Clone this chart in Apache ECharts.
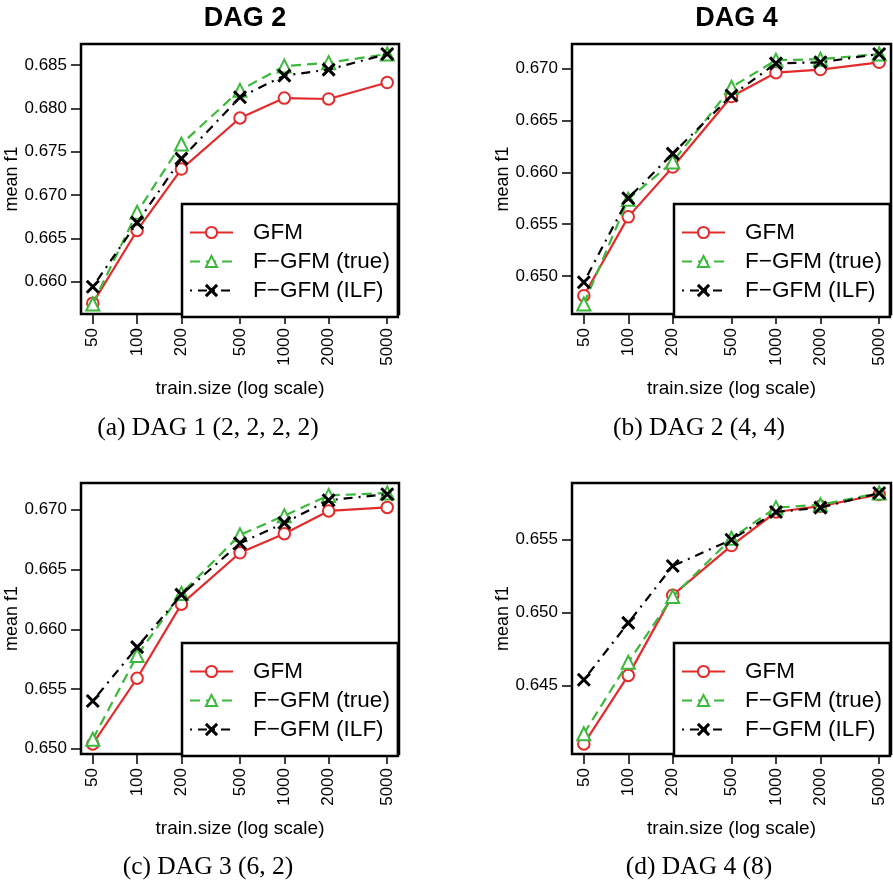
<!DOCTYPE html>
<html><head><meta charset="utf-8">
<script src="https://cdn.jsdelivr.net/npm/echarts@6/dist/echarts.min.js"></script>
<style>html,body{margin:0;padding:0;background:#fff}#c{width:893px;height:882px}</style>
</head><body><div id="c"></div>
<script>
// ---- data ----
const trainSizes = [50, 100, 200, 500, 1000, 2000, 5000];
const seriesNames = ['GFM', 'F\u2212GFM (true)', 'F\u2212GFM (ILF)'];
const panelTitles = ['DAG 2', 'DAG 4', '', ''];
const panelCaptions = ['(a) DAG 1 (2, 2, 2, 2)', '(b) DAG 2 (4, 4)', '(c) DAG 3 (6, 2)', '(d) DAG 4 (8)'];

const dagA_gfm  = [0.6575, 0.6659, 0.6730, 0.6789, 0.6812, 0.6811, 0.6830];
const dagA_true = [0.6574, 0.6680, 0.6759, 0.6821, 0.6849, 0.6853, 0.6863];
const dagA_ilf  = [0.6594, 0.6668, 0.6742, 0.6813, 0.6838, 0.6845, 0.6863];

const dagB_gfm  = [0.6481, 0.6557, 0.6605, 0.6673, 0.6696, 0.6699, 0.6706];
const dagB_true = [0.6473, 0.6574, 0.6610, 0.6682, 0.6708, 0.6709, 0.6714];
const dagB_ilf  = [0.6494, 0.6575, 0.6618, 0.6674, 0.6705, 0.6706, 0.6714];

const dagC_gfm  = [0.6504, 0.6559, 0.6621, 0.6664, 0.6680, 0.6699, 0.6702];
const dagC_true = [0.6508, 0.6578, 0.6630, 0.6679, 0.6695, 0.6712, 0.6714];
const dagC_ilf  = [0.6540, 0.6585, 0.6629, 0.6672, 0.6689, 0.6708, 0.6713];

const dagD_gfm  = [0.6410, 0.6457, 0.6512, 0.6546, 0.6569, 0.6573, 0.6581];
const dagD_true = [0.6417, 0.6466, 0.6511, 0.6551, 0.6572, 0.6574, 0.6582];
const dagD_ilf  = [0.6454, 0.6493, 0.6532, 0.6550, 0.6569, 0.6572, 0.6582];

const yTicksA = [0.660, 0.665, 0.670, 0.675, 0.680, 0.685];
const yTicksB = [0.650, 0.655, 0.660, 0.665, 0.670];
const yTicksC = [0.650, 0.655, 0.660, 0.665, 0.670];
const yTicksD = [0.645, 0.650, 0.655];

const panelData = [
  [dagA_gfm, dagA_true, dagA_ilf],
  [dagB_gfm, dagB_true, dagB_ilf],
  [dagC_gfm, dagC_true, dagC_ilf],
  [dagD_gfm, dagD_true, dagD_ilf]
];
const panelYTicks = [yTicksA, yTicksB, yTicksC, yTicksD];

// ---- layout / style ----
const FONT = 'Liberation Sans';
const SERIF = 'Liberation Serif';
const RED = '#e42b2b', GREEN = '#3db83d', BLACK = '#000';
const grids = [
  {left: 81,  top: 44,  width: 318, height: 270},
  {left: 572, top: 44,  width: 319, height: 270},
  {left: 81,  top: 483, width: 318, height: 271},
  {left: 572, top: 483, width: 319, height: 271}
];
const legendPos = [
  {left: 182, top: 204}, {left: 674, top: 204},
  {left: 182, top: 643}, {left: 674, top: 643}
];
const captionPos = [
  {x: 203, y: 410}, {x: 694, y: 410}, {x: 203, y: 849}, {x: 694, y: 849}
];

// R-style 4% axis extension
function rangeExt(lo, hi) { const r = hi - lo; return [lo - 0.04 * r, hi + 0.04 * r]; }
const xLogExt = rangeExt(Math.log10(trainSizes[0]), Math.log10(trainSizes[trainSizes.length - 1]));

const styles = [
  {symbol: 'emptyCircle', symbolSize: 11.5, color: RED, dash: 'solid'},
  {symbol: 'emptyTriangle', symbolSize: 13, color: GREEN, dash: [10, 6]},
  {symbol: 'path://M0,0L10,10M10,0L0,10', symbolSize: 12, color: BLACK, dash: [2, 6, 9, 6]}
];

const option = {
  animation: false,
  backgroundColor: '#fff',
  textStyle: {fontFamily: FONT},
  title: [],
  grid: [], xAxis: [], yAxis: [], legend: [], series: []
};

for (let p = 0; p < 4; p++) {
  const g = grids[p];
  option.grid.push(Object.assign({show: true, borderColor: '#000', borderWidth: 2.5, backgroundColor: 'transparent'}, g));
  const all = [].concat(...panelData[p]);
  const yExt = rangeExt(Math.min(...all), Math.max(...all));
  option.xAxis.push({
    type: 'log', logBase: 10, gridIndex: p,
    min: Math.pow(10, xLogExt[0]), max: Math.pow(10, xLogExt[1]),
    name: 'train.size (log scale)', nameLocation: 'middle', nameGap: 65,
    nameTextStyle: {fontSize: 19, color: '#000', fontFamily: FONT},
    axisLine: {show: false},
    axisTick: {show: true, length: 10, customValues: trainSizes, lineStyle: {color: '#000', width: 1.5}},
    axisLabel: {show: true, rotate: 90, margin: 14, fontSize: 17, color: '#000', fontFamily: FONT,
                customValues: trainSizes, formatter: v => String(Math.round(v))},
    splitLine: {show: false}, minorTick: {show: false}, minorSplitLine: {show: false}
  });
  option.yAxis.push({
    type: 'value', gridIndex: p, min: yExt[0], max: yExt[1], scale: true,
    name: 'mean f1', nameLocation: 'middle', nameGap: 56, nameRotate: 90,
    nameTextStyle: {fontSize: 18, color: '#000', fontFamily: FONT},
    axisLine: {show: false},
    axisTick: {show: true, length: 10, customValues: panelYTicks[p], lineStyle: {color: '#000', width: 1.5}},
    axisLabel: {show: true, margin: 14, fontSize: 17, color: '#000', fontFamily: FONT,
                customValues: panelYTicks[p], formatter: v => v.toFixed(3)},
    splitLine: {show: false}
  });
  for (let s = 0; s < 3; s++) {
    const st = styles[s];
    option.series.push({
      type: 'line', name: seriesNames[s], xAxisIndex: p, yAxisIndex: p,
      data: trainSizes.map((x, j) => [x, panelData[p][s][j]]),
      symbol: st.symbol, symbolSize: st.symbolSize, showSymbol: true,
      color: st.color,
      lineStyle: {color: st.color, width: 2.2, type: st.dash},
      itemStyle: s === 2 ? {color: BLACK, borderColor: BLACK, borderWidth: 3}
                         : {color: st.color, borderColor: st.color, borderWidth: 2.2},
      z: 2 + s
    });
  }
  option.legend.push({
    show: true, orient: 'vertical', left: legendPos[p].left, top: legendPos[p].top,
    data: seriesNames, selectedMode: false,
    itemWidth: 43, itemHeight: 14, itemGap: 6,
    padding: [17, 8, 15, 7],
    backgroundColor: '#fff', borderColor: '#000', borderWidth: 2.5, borderRadius: 0,
    itemStyle: {borderWidth: 3},
    textStyle: {fontSize: 22.5, color: '#000', fontFamily: FONT, lineHeight: 22, padding: [0, 0, 0, 15]},
    z: 10
  });
  if (panelTitles[p]) {
    option.title.push({
      text: panelTitles[p], left: g.left + g.width / 2, top: 0, textAlign: 'center',
      textStyle: {fontSize: 27, fontWeight: 'bold', color: '#000', fontFamily: FONT}
    });
  }
  option.title.push({
    text: panelCaptions[p], left: captionPos[p].x, top: captionPos[p].y, textAlign: 'center',
    textStyle: {fontSize: 25.5, fontWeight: 'normal', color: '#000', fontFamily: SERIF}
  });
}

const chart = echarts.init(document.getElementById('c'), null, {renderer: 'canvas'});
chart.setOption(option);
</script>
</body></html>
